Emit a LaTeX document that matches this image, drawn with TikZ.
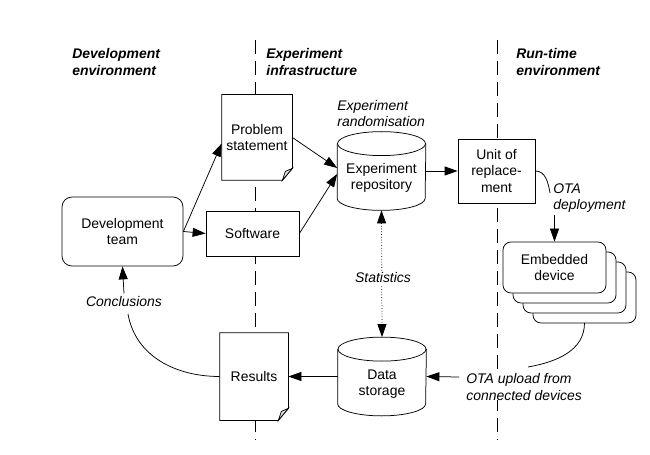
\documentclass[tikz,border=0pt]{standalone}
\usepackage{fontspec}
\setmainfont{Liberation Sans}
\usetikzlibrary{arrows.meta, positioning}
\tikzset{
  base/.style={font=\fontsize{14}{16.5}\selectfont, align=center, inner sep=0pt},
  box/.style={base, draw, fill=white},
  doc/.style={base, fill=white},
  drum/.style={base, minimum width=88bp, minimum height=78bp},
  team/.style={box, rounded corners=10bp, minimum width=121bp, minimum height=69bp},
  card/.style={draw, fill=white, rounded corners=8bp},
  lbl/.style={base, font=\fontsize{14}{16.5}\selectfont\itshape, align=left},
  header/.style={base, font=\fontsize{14}{16.5}\selectfont\bfseries\itshape, align=left, anchor=west},
  divider/.style={dash pattern=on 14bp off 7bp},
}
% sheet with a folded corner, drawn round a doc node
\newcommand{\docoutline}[1]{%
  \draw (#1.north west) -- (#1.north east) -- ([yshift=12bp]#1.south east)
     -- ([xshift=-10bp]#1.south east) -- (#1.south west) -- cycle;
  \draw[fill=black!12] ([yshift=12bp]#1.south east) -- ([xshift=-10bp]#1.south east)
     -- ([shift={(-7bp,9bp)}]#1.south east) -- cycle;
}
% cylinder drawn round a drum node
\newcommand{\drumoutline}[1]{%
  \draw ([yshift=-12bp]#1.north west) -- ([yshift=12bp]#1.south west)
     arc[start angle=180, end angle=360, x radius=44bp, y radius=12bp]
     -- ([yshift=-12bp]#1.north east);
  \draw ([yshift=-12bp]#1.north) ellipse[x radius=44bp, y radius=12bp];
}
\begin{document}
\begin{tikzpicture}[x=1bp, y=-1bp, line width=0.75bp, >={Triangle[length=13bp, width=9bp]}]
  \useasboundingbox (0,0) rectangle (650,455);

  % zones
  \draw[divider] (255,40) -- (255,440);
  \draw[divider] (497,40) -- (497,440);
  \node[header] (hdev) at (72,62) {Development\\environment};
  \node[header] (hinf) at (266,62) {Experiment\\infrastructure};
  \node[header] (hrun) at (516,62) {Run-time\\environment};

  % development side
  \node[team] (team) at (122.5,231.5) {Development\\team};
  \node[doc, minimum width=70bp, minimum height=85bp] (prob) at (257,137.5) {Problem\\statement};
  \docoutline{prob}
  \node[box, minimum width=93bp, minimum height=45bp] (soft) at (252.5,233.5) {Software};
  \node[doc, minimum width=68bp, minimum height=87bp] (res) at (254,376.5) {Results};
  \docoutline{res}

  % repository and storage
  \node[drum] (repo) at (381.5,171) {};
  \drumoutline{repo}
  \node[base] (repotxt) at ([yshift=-7bp]repo.center) {Experiment\\repository};
  \node[lbl, anchor=west] (rand) at (337,113.5) {Experiment\\randomisation};
  \node[drum] (store) at (382,376.5) {};
  \drumoutline{store}
  \node[base] (storetxt) at ([yshift=-7.5bp]store.center) {Data\\storage};

  % run-time side
  \node[box, minimum width=77bp, minimum height=64bp] (unit) at (496.5,171) {Unit of\\replace-\\ment};
  \coordinate (embpos) at (554.5,267.5);
  \foreach \k in {3,2,1}
    \draw[card] ([shift={(\k*10bp-51.5bp,-\k*10bp-25.5bp)}]embpos) rectangle ++(103bp,51bp);
  \node[base, card, minimum width=103bp, minimum height=51bp] (emb) at (embpos) {Embedded\\device};
  \coordinate (stackbot) at ([shift={(30bp,-55.5bp)}]embpos);

  % labels on the flows
  \node[lbl, anchor=west] (otalbl) at (553,198) {OTA\\deployment};
  \coordinate (otain) at (550,193);
  \coordinate (otaout) at (554.5,215);
  \node[lbl, anchor=west, fill=white] (uplbl) at (466,387) {OTA upload from\\connected devices};
  \coordinate (upend) at (528,367);
  \coordinate (upfrom) at (459,377);
  \node[lbl] (concl) at (124,302) {Conclusions};
  \coordinate (conclfoot) at (128,314);

  % flows
  \draw[->] (team.east) -- ([yshift=-6bp]prob.west);
  \draw[->] (team.east) -- (soft.west);
  \draw[->] (prob.east) -- ([yshift=3bp]repo.west);
  \draw[->] (soft.east) -- ([yshift=-3bp]repo.west);
  \draw[->] (repo.east) -- (unit.west);
  \draw (unit.east) to[out=0, in=100] (otain);
  \draw[->] (otaout) -- (emb.north);
  \draw (stackbot) to[out=-90, in=10] (upend);
  \draw[->] (upfrom) -- (store.east);
  \draw[->] (store.west) -- (res.east);
  \draw (res.west) to[out=180, in=-80] (conclfoot);
  \draw[->] ([yshift=3bp]concl.north) -- (team.south);
  \draw[<->, dotted] (repo.south) -- (store.north);
  \node[lbl, fill=white, inner sep=2bp] (stats) at (383,278) {Statistics};
\end{tikzpicture}
\end{document}
